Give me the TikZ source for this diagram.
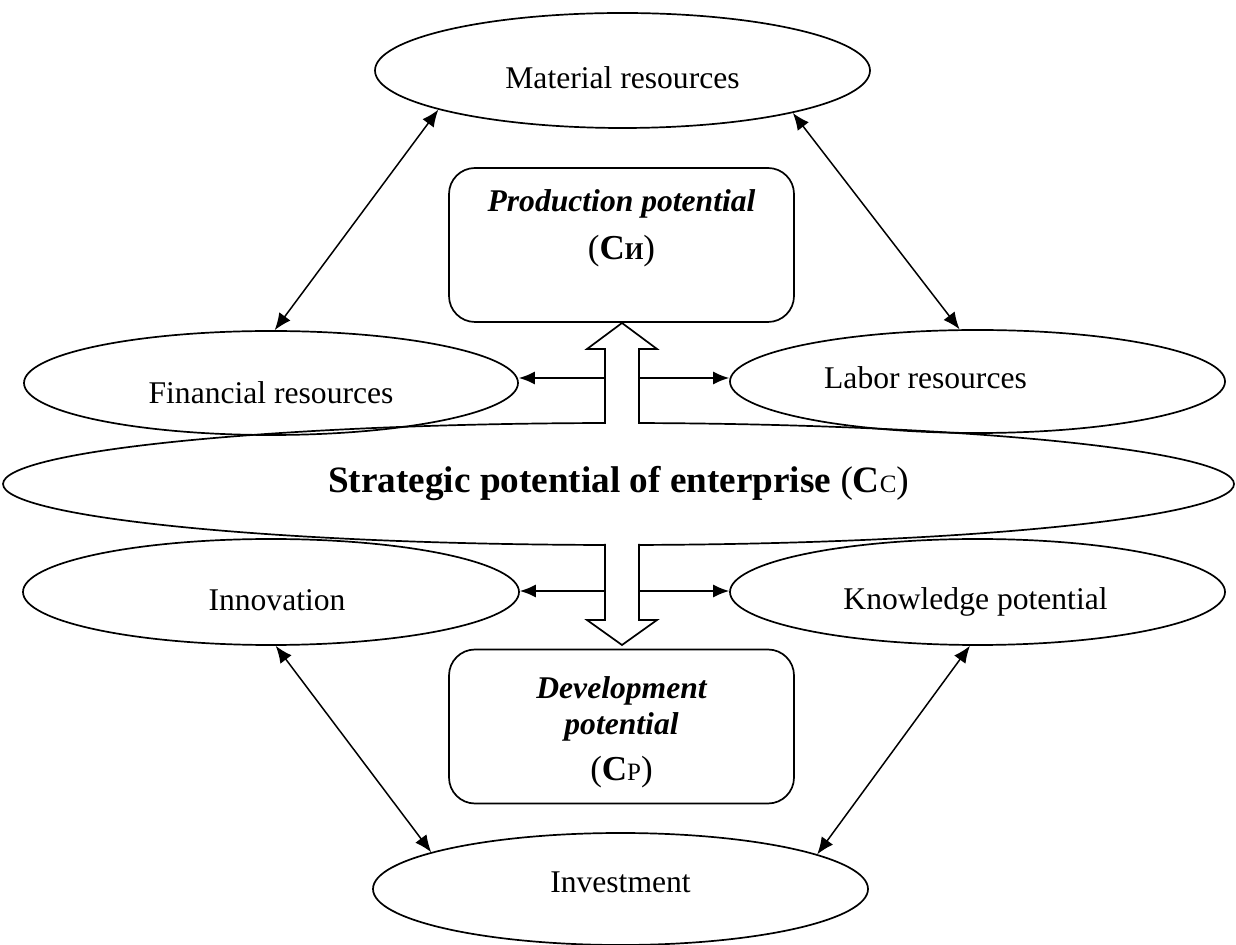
\documentclass[tikz,border=0pt]{standalone}
\usepackage{fontspec}
\setmainfont{Liberation Serif}
\usetikzlibrary{shapes.geometric,arrows.meta}
\begin{document}
\begin{tikzpicture}[x=0.5pt,y=-0.5pt,
  ell/.style={draw,line width=0.85pt,ellipse,inner sep=0pt},
  pbox/.style={draw,line width=0.85pt,rectangle,rounded corners=13pt,inner sep=0pt,minimum width=172.5pt,minimum height=77pt},
  conn/.style={line width=0.75pt,{Latex[length=8.5pt,width=7pt]}-{Latex[length=8.5pt,width=7pt]}},
  side/.style={line width=0.75pt,-{Latex[length=8pt,width=6.5pt]}},
  hollow/.style={draw,line width=0.85pt,fill=white,line join=miter},
  txt/.style={font=\fontsize{15.8pt}{18pt}\selectfont},
  big/.style={font=\fontsize{18.6pt}{21pt}\selectfont}
]
\useasboundingbox (0,0) rectangle (1236,945);
% ellipses
\node[ell,minimum width=247.5pt,minimum height=57.5pt,label={[txt,yshift=-3.5pt]center:Material resources}] (mat) at (622.5,70.5) {};
\node[ell,minimum width=247pt,minimum height=52pt,label={[txt,yshift=-5pt]center:Financial resources}] (fin) at (271,383) {};
\node[ell,minimum width=247.5pt,minimum height=51.5pt,label={[txt,xshift=-26pt,yshift=2pt]center:Labor resources}] (lab) at (977.5,381.5) {};
\node[ell,minimum width=615.5pt,minimum height=61pt,label={[big]center:{{\bfseries Strategic potential of enterprise} (\textbf{C}{\fontsize{12.5pt}{12.5pt}\selectfont C})}}] (str) at (618.5,484) {};
\node[ell,minimum width=248pt,minimum height=53pt,label={[txt,xshift=3pt,yshift=-4pt]center:Innovation}] (inn) at (271,592) {};
\node[ell,minimum width=247.5pt,minimum height=53pt,label={[txt,xshift=-1pt,yshift=-5pt]center:Knowledge potential}] (kno) at (977.5,592) {};
\node[ell,minimum width=247.5pt,minimum height=56pt,label={[txt,yshift=3.5pt]center:Investment}] (inv) at (620.5,889) {};
% boxes
\node[pbox,label={[txt,align=center,yshift=8.5pt]center:{{\bfseries\itshape Production potential}\\[6pt]{\fontsize{17.5pt}{18pt}\selectfont(\textbf{C}{\fontsize{12pt}{12pt}\selectfont\bfseries И})}}}] (prod) at (621.5,245) {};
\node[pbox,label={[txt,align=center,yshift=-3pt]center:{{\bfseries\itshape Development}\\{\bfseries\itshape potential}\\[5pt]{\fontsize{17.5pt}{18pt}\selectfont(\textbf{C}{\fontsize{12.5pt}{12.5pt}\selectfont P})}}}] (dev) at (621.5,726.5) {};
% hollow arrows
\coordinate (ua1) at (605,424); \coordinate (ua2) at (639,424);
\draw[hollow] (ua1) -- (605,349) -- (587,349) -- (622,323) -- (657,349) -- (639,349) -- (ua2);
\coordinate (da1) at (605,544); \coordinate (da2) at (639,544);
\draw[hollow] (da1) -- (605,620) -- (587,620) -- (622,645) -- (657,620) -- (639,620) -- (da2);
% side arrows
\coordinate (uL) at (605,378); \coordinate (uR) at (639,378);
\coordinate (dL) at (605,591); \coordinate (dR) at (639,591);
\draw[side] (uL) -- (uL -| fin.east);
\draw[side] (uR) -- (uR -| lab.west);
\draw[side] (dL) -- (dL -| inn.east);
\draw[side] (dR) -- (dR -| kno.west);
% diagonal connectors
\draw[conn] (mat.192) -- (fin.86);
\draw[conn] (mat.346.6) -- (lab.109);
\draw[conn] (inn.275) -- (inv.169);
\draw[conn] (kno.262) -- (inv.10);
\end{tikzpicture}
\end{document}
